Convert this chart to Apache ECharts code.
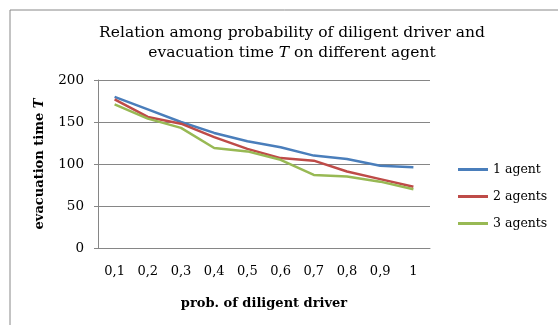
<!DOCTYPE html>
<html>
<head>
<meta charset="utf-8">
<script src="https://cdn.jsdelivr.net/npm/echarts@6/dist/echarts.min.js"></script>
<style>
  html, body { margin: 0; padding: 0; background: #fff; }
  #chart { width: 558px; height: 325px; }
</style>
</head>
<body>
<div id="chart"></div>
<script>
// categories and values
const probs = ['0,1', '0,2', '0,3', '0,4', '0,5', '0,6', '0,7', '0,8', '0,9', '1'];
const agent1 = [180, 165, 150, 137, 127, 120, 110, 106, 98, 96];
const agent2 = [177, 156, 148, 132, 118, 107, 104, 91, 82, 73];
const agent3 = [171, 154, 143, 119, 115, 105, 87, 85, 79, 70];
const seriesNames = ['1 agent', '2 agents', '3 agents'];
const colors = ['#4A7EBB', '#BE4B48', '#98B954'];

const font = 'DejaVu Serif';
let myChart = echarts.init(document.getElementById('chart'));

const mkLine = (name, data, i) => ({
    name: name,
    type: 'line',
    data: data,
    symbol: 'none',
    lineStyle: { width: 2.5, color: colors[i] },
    itemStyle: { color: colors[i] }
});

let option = {
    animation: false,
    textStyle: { fontFamily: font },
    graphic: [
        {
            type: 'rect',
            shape: { x: 10, y: 10, width: 600, height: 400 },
            style: { fill: 'none', stroke: '#888', lineWidth: 1 }
        }
    ],
    title: {
        text: 'Relation among probability of diligent driver and\nevacuation time {i|T} on different agent',
        left: 287,
        top: 18,
        textAlign: 'center',
        textStyle: {
            fontFamily: font,
            fontSize: 15.5,
            fontWeight: 'normal',
            color: '#000',
            lineHeight: 20,
            rich: {
                i: { fontFamily: font, fontSize: 15.5, fontStyle: 'italic', color: '#000' }
            }
        }
    },
    legend: {
        orient: 'vertical',
        left: 453,
        top: 158,
        itemWidth: 30,
        itemHeight: 3,
        itemGap: 14,
        icon: 'rect',
        data: seriesNames,
        textStyle: { fontFamily: font, fontSize: 12.5, color: '#000' }
    },
    grid: { left: 98, right: 128, top: 80, bottom: 77 },
    xAxis: {
        type: 'category',
        data: probs,
        boundaryGap: true,
        name: 'prob. of diligent driver',
        nameLocation: 'middle',
        nameGap: 49,
        nameTextStyle: { fontFamily: font, fontSize: 13, fontWeight: 'bold', color: '#000' },
        axisLine: { lineStyle: { color: '#868686' } },
        axisTick: { show: false },
        axisLabel: { fontFamily: font, fontSize: 13, color: '#000', margin: 17 }
    },
    yAxis: {
        type: 'value',
        min: 0,
        max: 200,
        interval: 50,
        name: 'evacuation time {i|T}',
        nameLocation: 'middle',
        nameGap: 52,
        nameTextStyle: {
            fontFamily: font, fontSize: 13, fontWeight: 'bold', color: '#000',
            rich: { i: { fontFamily: font, fontSize: 13, fontWeight: 'bold', fontStyle: 'italic', color: '#000' } }
        },
        axisLine: { show: true, lineStyle: { color: '#868686' } },
        axisTick: { show: true, length: 4, lineStyle: { color: '#868686' } },
        splitLine: { lineStyle: { color: '#868686' } },
        axisLabel: { fontFamily: font, fontSize: 13.5, color: '#000', margin: 14 }
    },
    series: [
        mkLine(seriesNames[0], agent1, 0),
        mkLine(seriesNames[1], agent2, 1),
        mkLine(seriesNames[2], agent3, 2)
    ]
};
option && myChart.setOption(option);
</script>
</body>
</html>
